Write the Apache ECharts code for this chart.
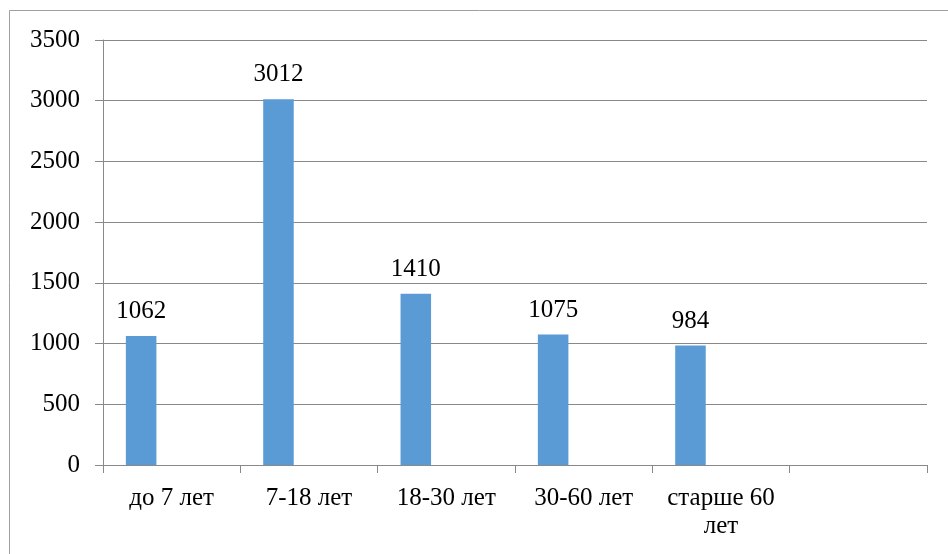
<!DOCTYPE html>
<html>
<head>
<meta charset="utf-8">
<script src="https://cdn.jsdelivr.net/npm/echarts@6/dist/echarts.min.js"></script>
<style>
html,body{margin:0;padding:0;background:#fff;}
#c{width:948px;height:554px;}
</style>
</head>
<body>
<div id="c"></div>
<script>
const categories = ['до 7 лет', '7-18 лет', '18-30 лет', '30-60 лет', 'старше 60 лет', ''];
const values = [1062, 3012, 1410, 1075, 984, null];
const yTicks = [0, 500, 1000, 1500, 2000, 2500, 3000, 3500];

const chart = echarts.init(document.getElementById('c'), null, {renderer: 'canvas'});
const font = 'Liberation Serif';
const gridColor = '#898989';
function wrapLabel(v) {
  if (v.length <= 10) return v;
  const i = v.lastIndexOf(' ');
  return v.slice(0, i) + '\n' + v.slice(i + 1);
}
chart.setOption({
  animation: false,
  backgroundColor: '#fff',
  textStyle: {fontFamily: font},
  graphic: [{
    type: 'rect', shape: {x: 9.5, y: 10.5, width: 1000, height: 1000},
    style: {fill: 'none', stroke: '#a0a0a0', lineWidth: 1}, silent: true, z: -1
  }],
  grid: {left: 103, right: 21, top: 40, bottom: 89, containLabel: false, outerBoundsMode: 'none'},
  xAxis: {
    type: 'category',
    data: categories,
    axisLine: {show: true, lineStyle: {color: gridColor, width: 1}},
    axisTick: {show: true, length: 8, alignWithLabel: false, lineStyle: {color: gridColor}},
    axisLabel: {fontFamily: font, fontSize: 25, color: '#000', margin: 19, interval: 0,
      lineHeight: 28, formatter: wrapLabel},
    splitLine: {show: false}
  },
  yAxis: {
    type: 'value',
    min: yTicks[0], max: yTicks[yTicks.length - 1], interval: 500,
    axisLine: {show: true, lineStyle: {color: gridColor, width: 1}},
    axisTick: {show: true, length: 8, lineStyle: {color: gridColor}},
    axisLabel: {fontFamily: font, fontSize: 25, color: '#000', margin: 23, formatter: v => String(v)},
    splitLine: {show: true, lineStyle: {color: gridColor, width: 1}}
  },
  series: [
    {
      type: 'bar', data: values, barGap: '0%', barCategoryGap: '33.3%',
      itemStyle: {color: '#5B9BD5'},
      label: {show: true, position: 'top', distance: 12, fontFamily: font, fontSize: 25, color: '#000'}
    },
    {type: 'bar', data: categories.map(() => null), barGap: '0%'},
    {type: 'bar', data: categories.map(() => null), barGap: '0%'}
  ]
});
</script>
</body>
</html>
